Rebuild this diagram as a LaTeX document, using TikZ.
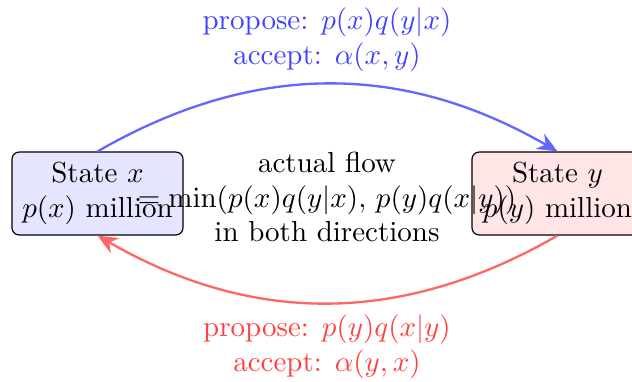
\documentclass[tikz,border=0pt]{standalone}
\usetikzlibrary{arrows.meta}
\begin{document}
\begin{tikzpicture}[x=0.3448pt,y=-0.3448pt,
  statebox/.style={draw=black, rounded corners=2.5pt, align=center, minimum width=59pt, minimum height=28.6pt, inner sep=2pt},
  flowarrow/.style={thick, -{Stealth[length=7pt,width=6pt]}},
  lbl/.style={align=center}]
\useasboundingbox (0,0) rectangle (632,381);
\node[statebox, fill=blue!10] (sx) at (97.5,193.5) {State $x$\\ $p(x)$ million};
\node[statebox, fill=red!10] (sy) at (557.5,193.5) {State $y$\\ $p(y)$ million};
\node[lbl] (mid) at (327,197) {actual flow\\ $=\min(p(x)q(y|x),\, p(y)q(x|y))$\\ in both directions};
\draw[flowarrow, blue!60] (sx.north) to[bend left=30] (sy.north);
\draw[flowarrow, red!60] (sy.south) to[bend left=30] (sx.south);
\node[lbl, text=blue!75] (top) at (327,40) {propose: $p(x)q(y|x)$\\ accept: $\alpha(x,y)$};
\node[lbl, text=red!75] (bot) at (327,347) {propose: $p(y)q(x|y)$\\ accept: $\alpha(y,x)$};
\end{tikzpicture}
\end{document}
